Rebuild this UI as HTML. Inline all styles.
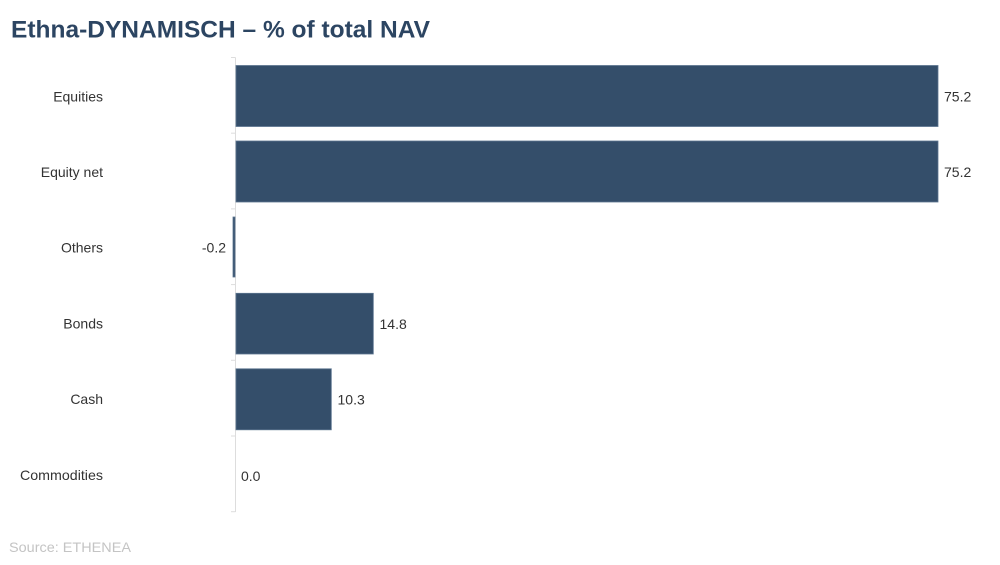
<!DOCTYPE html>
<html>
<head>
<meta charset="utf-8">
<style>
  html, body { margin: 0; padding: 0; background: #ffffff; }
  body { width: 1000px; height: 565px; overflow: hidden; }
  svg { display: block; }
  text { font-family: "Liberation Sans", Arial, sans-serif; }
</style>
</head>
<body>
<svg width="1000" height="565" viewBox="0 0 1000 565" xmlns="http://www.w3.org/2000/svg">
  <rect x="0" y="0" width="1000" height="565" fill="#ffffff"/>
  <!-- Title -->
  <text x="11" y="37.5" font-size="24.5" font-weight="bold" fill="#2c4562" textLength="419" lengthAdjust="spacingAndGlyphs">Ethna-DYNAMISCH – % of total NAV</text>

  <!-- Axis line -->
  <line x1="235.5" y1="57.5" x2="235.5" y2="512" stroke="#dddddd" stroke-width="1"/>
  <!-- Ticks -->
  <g stroke="#dddddd" stroke-width="1">
    <line x1="231" y1="57.5" x2="235.5" y2="57.5"/>
    <line x1="231" y1="133.2" x2="235.5" y2="133.2"/>
    <line x1="231" y1="208.9" x2="235.5" y2="208.9"/>
    <line x1="231" y1="284.6" x2="235.5" y2="284.6"/>
    <line x1="231" y1="360.3" x2="235.5" y2="360.3"/>
    <line x1="231" y1="436" x2="235.5" y2="436"/>
    <line x1="231" y1="511.7" x2="235.5" y2="511.7"/>
  </g>

  <!-- Bars -->
  <g fill="#344e6a" stroke="#5c7590" stroke-width="0.8">
    <rect x="236" y="65.5" width="702" height="61"/>
    <rect x="236" y="141" width="702" height="61"/>
    <rect x="233" y="217" width="2" height="60"/>
    <rect x="236" y="293.3" width="137.3" height="60.7"/>
    <rect x="236" y="368.8" width="95.3" height="61"/>
  </g>

  <!-- Category labels -->
  <g font-size="14" fill="#333333" text-anchor="end">
    <text x="103" y="101.5">Equities</text>
    <text x="103" y="177">Equity net</text>
    <text x="103" y="252.5">Others</text>
    <text x="103" y="328.5">Bonds</text>
    <text x="103" y="404">Cash</text>
    <text x="103" y="480" textLength="83" lengthAdjust="spacingAndGlyphs">Commodities</text>
  </g>

  <!-- Value labels -->
  <g font-size="14" fill="#333333">
    <text x="944" y="101.5">75.2</text>
    <text x="944" y="177">75.2</text>
    <text x="226" y="252.5" text-anchor="end">-0.2</text>
    <text x="379.5" y="329">14.8</text>
    <text x="337.5" y="404.5">10.3</text>
    <text x="241" y="481">0.0</text>
  </g>

  <!-- Source -->
  <text x="9" y="552" font-size="14" fill="#c4c4c4" textLength="122" lengthAdjust="spacingAndGlyphs">Source: ETHENEA</text>
</svg>
</body>
</html>
